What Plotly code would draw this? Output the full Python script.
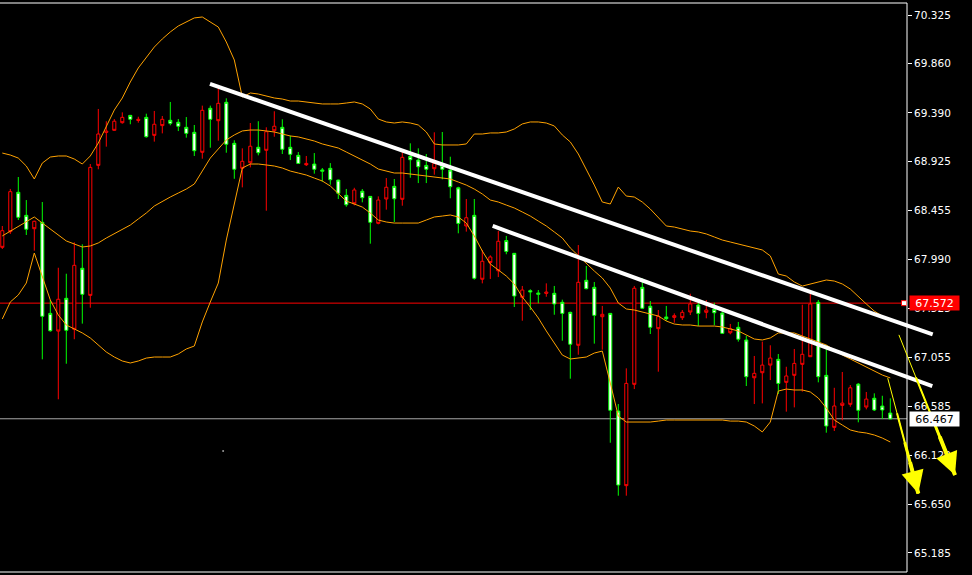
import plotly.graph_objects as go

# ---------------- data ----------------
bar_index = list(range(112))

opens = [68.264, 68.637, 68.392, 68.278, 68.354, 67.446, 67.308, 67.609, 67.312, 67.933,
         67.656, 68.869, 69.188, 69.216, 69.310, 69.347, 69.328, 69.328, 69.162, 69.281,
         69.328, 69.290, 69.262, 69.194, 69.028, 69.414, 69.328, 69.481, 69.090, 68.851,
         68.927, 69.071, 69.009, 69.210, 69.262, 69.042, 68.994, 68.907, 68.907, 68.851,
         68.832, 68.751, 68.621, 68.512, 68.653, 68.579, 68.344, 68.557, 68.679, 68.569,
         68.965, 68.942, 68.875, 68.851, 68.907, 68.851, 68.684, 68.334, 68.388, 67.809,
         67.972, 68.013, 68.163, 68.066, 67.640, 67.697, 67.678, 67.656, 67.678, 67.564,
         67.474, 67.179, 67.771, 67.710, 67.455, 67.465, 66.548, 65.834, 66.805, 67.714,
         67.523, 67.341, 67.446, 67.423, 67.452, 67.484, 67.564, 67.474, 67.506, 67.480,
         67.283, 67.328, 67.227, 66.869, 66.901, 66.980, 67.047, 66.805, 66.876, 66.996,
         67.083, 67.564, 66.869, 66.398, 66.589, 66.617, 66.763, 66.548, 66.655, 66.551,
         66.551, 66.465]
highs = [68.309, 68.663, 68.777, 68.557, 68.359, 68.538, 67.602, 67.910, 67.853, 68.153,
         68.134, 68.901, 69.427, 69.310, 69.331, 69.395, 69.370, 69.353, 69.382, 69.408,
         69.360, 69.494, 69.331, 69.350, 69.274, 69.459, 69.459, 69.628, 69.529, 69.128,
         69.051, 69.293, 69.310, 69.252, 69.405, 69.328, 69.172, 69.016, 68.978, 69.006,
         68.863, 68.910, 68.751, 68.663, 68.674, 68.662, 68.592, 68.592, 68.767, 68.758,
         69.016, 69.099, 69.051, 68.997, 69.204, 69.207, 68.971, 68.684, 68.567, 68.567,
         68.080, 68.029, 68.261, 68.214, 68.051, 67.736, 67.704, 67.697, 67.761, 67.736,
         67.605, 67.490, 68.127, 67.927, 67.774, 67.545, 67.474, 66.608, 66.949, 67.736,
         67.809, 67.592, 67.506, 67.545, 67.474, 67.506, 67.662, 67.602, 67.602, 67.576,
         67.490, 67.373, 67.392, 67.261, 67.067, 67.204, 67.169, 67.086, 66.964, 67.134,
         67.557, 67.697, 67.602, 67.172, 66.763, 66.914, 66.789, 66.808, 66.723, 66.710,
         66.687, 66.662]
lows = [68.089, 68.233, 68.366, 68.223, 68.073, 67.035, 67.299, 66.653, 66.993, 67.227,
        67.376, 67.528, 68.851, 69.067, 69.219, 69.287, 69.281, 69.296, 69.153, 69.115,
        69.194, 69.271, 69.216, 69.153, 68.978, 68.952, 69.057, 69.124, 69.009, 68.760,
        68.678, 68.869, 68.984, 68.455, 69.162, 68.997, 68.939, 68.907, 68.882, 68.809,
        68.732, 68.703, 68.567, 68.493, 68.506, 68.535, 68.140, 68.325, 68.465, 68.347,
        68.503, 68.770, 68.719, 68.719, 68.799, 68.755, 68.574, 68.239, 68.255, 67.797,
        67.761, 67.803, 67.821, 68.039, 67.535, 67.404, 67.506, 67.570, 67.633, 67.461,
        67.213, 66.850, 67.079, 67.704, 67.185, 67.127, 66.238, 65.732, 65.732, 66.751,
        67.515, 67.277, 66.917, 67.404, 67.385, 67.411, 67.458, 67.353, 67.427, 67.360,
        67.280, 67.274, 67.204, 66.780, 66.608, 66.614, 66.837, 66.704, 66.535, 66.576,
        66.726, 67.060, 66.815, 66.334, 66.350, 66.452, 66.582, 66.433, 66.557, 66.541,
        66.465, 66.465]
closes = [68.105, 68.255, 68.631, 68.411, 68.283, 68.344, 67.474, 67.305, 67.618, 67.322,
          67.905, 67.646, 68.888, 69.204, 69.223, 69.296, 69.366, 69.319, 69.347, 69.175,
          69.268, 69.319, 69.300, 69.252, 69.204, 69.013, 69.434, 69.315, 69.491, 69.099,
          68.860, 68.913, 69.061, 69.032, 69.219, 69.252, 69.061, 68.984, 68.894, 68.901,
          68.844, 68.860, 68.748, 68.602, 68.522, 68.641, 68.592, 68.334, 68.567, 68.688,
          68.564, 68.975, 68.939, 68.888, 68.856, 68.888, 68.844, 68.674, 68.309, 68.411,
          67.800, 67.960, 67.881, 68.170, 68.048, 67.627, 67.690, 67.668, 67.666, 67.666,
          67.580, 67.484, 67.169, 67.790, 67.723, 67.442, 67.474, 66.541, 65.828, 66.796,
          67.723, 67.542, 67.328, 67.440, 67.436, 67.433, 67.487, 67.554, 67.484, 67.513,
          67.477, 67.289, 67.341, 67.220, 66.859, 66.907, 66.980, 67.035, 66.815, 66.882,
          66.987, 67.060, 67.580, 66.882, 66.385, 66.595, 66.605, 66.798, 66.579, 66.663,
          66.589, 66.522]

bb_upper = [69.006, 68.987, 68.958, 68.882, 68.758, 68.910, 68.968, 68.978, 68.978, 68.949,
            68.901, 68.978, 69.102, 69.265, 69.417, 69.532, 69.685, 69.819, 69.915, 70.019,
            70.096, 70.163, 70.220, 70.258, 70.297, 70.306, 70.258, 70.210, 70.067, 69.895,
            69.541, 69.580, 69.570, 69.550, 69.532, 69.522, 69.503, 69.503, 69.494, 69.484,
            69.475, 69.475, 69.475, 69.484, 69.494, 69.475, 69.427, 69.331, 69.303, 69.293,
            69.303, 69.293, 69.274, 69.207, 69.093, 69.083, 69.083, 69.083, 69.093, 69.188,
            69.188, 69.198, 69.198, 69.207, 69.236, 69.284, 69.303, 69.303, 69.293, 69.265,
            69.179, 69.112, 68.997, 68.853, 68.700, 68.538, 68.519, 68.681, 68.595, 68.586,
            68.538, 68.471, 68.395, 68.309, 68.299, 68.280, 68.261, 68.252, 68.233, 68.204,
            68.175, 68.156, 68.137, 68.118, 68.099, 68.080, 68.023, 67.850, 67.831, 67.774,
            67.735, 67.755, 67.774, 67.793, 67.783, 67.755, 67.707, 67.640, 67.564, 67.496,
            67.449, 67.411]
bb_middle = [68.214, 68.261, 68.309, 68.356, 68.395, 68.337, 68.280, 68.223, 68.166, 68.137,
             68.108, 68.118, 68.147, 68.194, 68.233, 68.280, 68.318, 68.376, 68.433, 68.500,
             68.547, 68.586, 68.624, 68.662, 68.710, 68.834, 68.958, 69.045, 69.131, 69.179,
             69.217, 69.226, 69.226, 69.217, 69.207, 69.188, 69.169, 69.160, 69.141, 69.121,
             69.093, 69.074, 69.054, 69.016, 68.978, 68.939, 68.901, 68.853, 68.834, 68.815,
             68.815, 68.806, 68.796, 68.787, 68.777, 68.767, 68.758, 68.729, 68.700, 68.662,
             68.615, 68.557, 68.538, 68.509, 68.481, 68.443, 68.404, 68.356, 68.309, 68.252,
             68.194, 68.099, 68.023, 67.946, 67.879, 67.812, 67.716, 67.573, 67.516, 67.506,
             67.487, 67.468, 67.449, 67.401, 67.372, 67.363, 67.363, 67.353, 67.353, 67.353,
             67.344, 67.325, 67.306, 67.268, 67.229, 67.220, 67.239, 67.287, 67.287, 67.287,
             67.258, 67.229, 67.201, 67.172, 67.124, 67.076, 67.038, 67.000, 66.962, 66.923,
             66.885, 66.857]
bb_lower = [67.420, 67.583, 67.650, 67.764, 68.051, 67.822, 67.602, 67.458, 67.363, 67.325,
            67.287, 67.239, 67.172, 67.105, 67.057, 67.019, 67.000, 67.019, 67.047, 67.057,
            67.057, 67.057, 67.086, 67.134, 67.162, 67.392, 67.583, 67.764, 68.175, 68.509,
            68.863, 68.901, 68.901, 68.892, 68.882, 68.863, 68.834, 68.815, 68.796, 68.767,
            68.739, 68.691, 68.615, 68.547, 68.519, 68.490, 68.433, 68.366, 68.347, 68.337,
            68.337, 68.337, 68.337, 68.366, 68.395, 68.404, 68.414, 68.395, 68.337, 68.214,
            68.070, 67.946, 67.888, 67.831, 67.755, 67.630, 67.535, 67.430, 67.306, 67.191,
            67.076, 67.038, 67.047, 67.057, 67.095, 67.114, 66.808, 66.493, 66.436, 66.436,
            66.436, 66.436, 66.445, 66.455, 66.455, 66.455, 66.455, 66.455, 66.455, 66.455,
            66.455, 66.445, 66.445, 66.436, 66.398, 66.341, 66.436, 66.732, 66.751, 66.742,
            66.742, 66.723, 66.665, 66.570, 66.455, 66.407, 66.360, 66.341, 66.331, 66.312,
            66.283, 66.245]

price_ticks = [70.325, 69.860, 69.390, 68.925, 68.455, 67.990, 67.525,
               67.055, 66.585, 66.120, 65.650, 65.185]
ask_level = 67.572
bid_level = 66.467

trend1_x = [25.96, 116.30]
trend1_y = [69.666, 67.274]
trend2_x = [61.30, 116.25]
trend2_y = [68.309, 66.780]

arrow1_tail = (110.63, 66.869)
arrow1_tip = (114.50, 65.754)
arrow2_tail = (112.00, 67.283)
arrow2_tip = (119.09, 65.930)

dot_x = [27.6]
dot_y = [66.159]

x_range = [-0.2875, 121.2125]
y_range = [64.9743, 70.4683]

# ---------------- figure ----------------
W, H = 972, 575
frame_right = 907 / W

fig = go.Figure()

for vals in (bb_upper, bb_middle, bb_lower):
    fig.add_trace(go.Scatter(x=bar_index, y=vals, mode="lines",
                             line=dict(color="#ffa200", width=1), hoverinfo="skip"))

fig.add_trace(go.Candlestick(
    x=bar_index, open=opens, high=highs, low=lows, close=closes,
    increasing=dict(line=dict(color="#00ff00", width=1), fillcolor="#ffffff"),
    decreasing=dict(line=dict(color="#ff0000", width=1), fillcolor="#000000"),
    whiskerwidth=0, hoverinfo="skip"))

fig.add_trace(go.Scatter(x=trend1_x, y=trend1_y, mode="lines",
                         line=dict(color="#ffffff", width=4), hoverinfo="skip"))
fig.add_trace(go.Scatter(x=trend2_x, y=trend2_y, mode="lines",
                         line=dict(color="#ffffff", width=4), hoverinfo="skip"))

fig.add_trace(go.Scatter(x=dot_x, y=dot_y, mode="markers",
                         marker=dict(color="#9a9a9a", size=2), hoverinfo="skip"))

# marker at the end of the red price line
fig.add_trace(go.Scatter(x=[(904 / W) * (x_range[1] - x_range[0]) + x_range[0]], y=[ask_level],
                         mode="markers",
                         marker=dict(symbol="square", size=5, color="#ffffff",
                                     line=dict(color="#ff0000", width=1)),
                         hoverinfo="skip"))

shapes = [
    dict(type="line", xref="paper", yref="y", x0=0, x1=904 / W, y0=ask_level, y1=ask_level,
         line=dict(color="#ff0000", width=1), layer="below"),
    dict(type="line", xref="paper", yref="y", x0=0, x1=frame_right, y0=bid_level, y1=bid_level,
         line=dict(color="#a8a8a8", width=1), layer="below"),
    dict(type="rect", xref="paper", yref="paper", x0=-0.01, x1=frame_right,
         y0=1 - 572 / H, y1=1 - 3 / H, line=dict(color="#ffffff", width=1)),
]

annotations = []


def tapered_arrow(tail, tip):
    tx, ty = tail
    hx, hy = tip
    pieces = [(0.0, 1), (0.3, 2), (0.55, 3), (0.72, 4)]
    for frac, w in pieces:
        sx = tx + frac * (hx - tx)
        sy = ty + frac * (hy - ty)
        annotations.append(dict(x=hx, y=hy, ax=sx, ay=sy, xref="x", yref="y",
                                axref="x", ayref="y", showarrow=True, arrowhead=0,
                                arrowwidth=w, arrowcolor="#ffff00", text=""))
    sx = tx + 0.85 * (hx - tx)
    sy = ty + 0.85 * (hy - ty)
    annotations.append(dict(x=hx, y=hy, ax=sx, ay=sy, xref="x", yref="y",
                            axref="x", ayref="y", showarrow=True, arrowhead=2,
                            arrowsize=1.0, arrowwidth=4.5, arrowcolor="#ffff00", text=""))


tapered_arrow(arrow1_tail, arrow1_tip)
tapered_arrow(arrow2_tail, arrow2_tip)

annotations.append(dict(xref="paper", yref="y", x=909 / W, y=ask_level, xanchor="left",
                        yanchor="middle", text=f"{ask_level:.3f}", showarrow=False,
                        width=49, height=14, borderpad=0, bgcolor="#ff0000",
                        font=dict(family="DejaVu Sans", size=11, color="#ffffff")))
annotations.append(dict(xref="paper", yref="y", x=909 / W, y=bid_level, xanchor="left",
                        yanchor="middle", text=f"{bid_level:.3f}", showarrow=False,
                        width=49, height=14, borderpad=0, bgcolor="#ffffff",
                        font=dict(family="DejaVu Sans", size=11, color="#000000")))

fig.update_layout(
    width=W, height=H,
    margin=dict(l=0, r=0, t=0, b=0),
    paper_bgcolor="#000000", plot_bgcolor="#000000",
    showlegend=False, hovermode=False,
    boxgap=0.45,
    xaxis=dict(range=x_range, domain=[0, 1], visible=False, showgrid=False,
               zeroline=False, rangeslider=dict(visible=False), fixedrange=True),
    yaxis=dict(range=y_range, domain=[0, 1], anchor="free", position=frame_right,
               side="right", showgrid=False, zeroline=False, showline=False,
               ticks="outside", ticklen=4, tickcolor="#ffffff", tickwidth=1,
               tickvals=price_ticks, ticktext=[f"{v:.3f}" for v in price_ticks],
               tickfont=dict(family="DejaVu Sans", size=10.5, color="#ffffff"),
               fixedrange=True),
    shapes=shapes,
    annotations=annotations,
)

fig.write_html(
    "out.html",
    config={"displayModeBar": False, "staticPlot": True},
    post_script="document.body.style.margin='0px';document.body.style.background='#000';",
)
